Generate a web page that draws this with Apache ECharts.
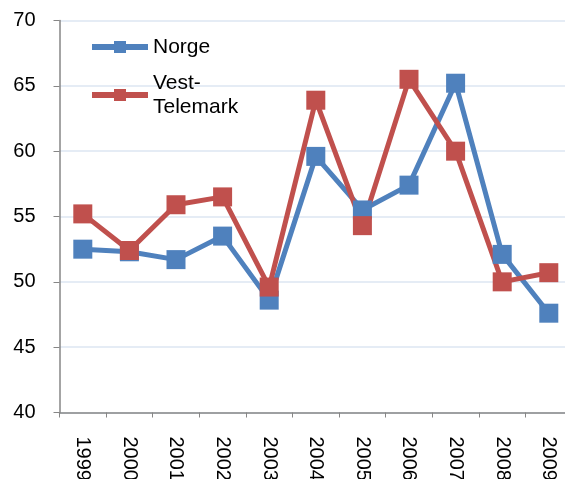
<!DOCTYPE html>
<html>
<head>
<meta charset="utf-8">
<script src="https://cdn.jsdelivr.net/npm/echarts@6/dist/echarts.min.js"></script>
<style>
html,body{margin:0;padding:0;background:#fff;}
#main{width:565px;height:479px;}
</style>
</head>
<body>
<div id="main"></div>
<script>
// years on the x axis
var years = ['1999','2000','2001','2002','2003','2004','2005','2006','2007','2008','2009'];
// values
var norge = [52.5, 52.3, 51.7, 53.5, 48.6, 59.6, 55.5, 57.4, 65.2, 52.1, 47.6];
var vestTelemark = [55.2, 52.4, 55.9, 56.5, 49.6, 63.9, 54.3, 65.5, 60.0, 50.0, 50.7];
var seriesNames = ['Norge', 'Vest-Telemark'];
var seriesColors = ['#4F81BD', '#C0504D'];

var font = '"Liberation Sans", Arial, sans-serif';

function makeSeries(name, values, color){
    return {
        name: name,
        type: 'line',
        data: values,
        symbol: 'rect',
        symbolSize: 19,
        lineStyle: {color: color, width: 5},
        itemStyle: {color: color},
        animation: false
    };
}

var chart = echarts.init(document.getElementById('main'));
var option = {
    backgroundColor: '#fff',
    grid: {left: 59.5, top: 20.5, width: 512.6, height: 392, containLabel: false, outerBoundsMode: 'none'},
    legend: {
        orient: 'vertical',
        left: 84,
        top: 30,
        itemWidth: 56,
        itemHeight: 15,
        itemGap: 0,
        lineStyle: {width: 6},
        data: [
            {name: seriesNames[0]},
            {name: seriesNames[1], textStyle: {padding: [24, 0, 0, 0]}}
        ],
        formatter: function(name){
            return name == 'Vest-Telemark' ? 'Vest-\nTelemark' : name;
        },
        textStyle: {fontFamily: font, fontSize: 21, color: '#000', lineHeight: 24}
    },
    xAxis: {
        type: 'category',
        data: years,
        boundaryGap: true,
        axisLine: {lineStyle: {color: '#868686', width: 1.5}},
        axisTick: {show: true, length: 5, lineStyle: {color: '#868686'}},
        axisLabel: {rotate: -90, margin: 24, fontFamily: font, fontSize: 20, color: '#000', interval: 0},
        splitLine: {show: false}
    },
    yAxis: {
        type: 'value',
        min: 40,
        max: 70,
        interval: 5,
        axisLine: {show: true, lineStyle: {color: '#868686', width: 1.5}},
        axisTick: {show: true, length: 6, lineStyle: {color: '#868686'}},
        axisLabel: {margin: 24, fontFamily: font, fontSize: 20, color: '#000'},
        splitLine: {show: true, lineStyle: {color: '#DCE6F2', width: 1.5}}
    },
    series: [
        makeSeries(seriesNames[0], norge, seriesColors[0]),
        makeSeries(seriesNames[1], vestTelemark, seriesColors[1])
    ]
};
chart.setOption(option);
</script>
</body>
</html>
